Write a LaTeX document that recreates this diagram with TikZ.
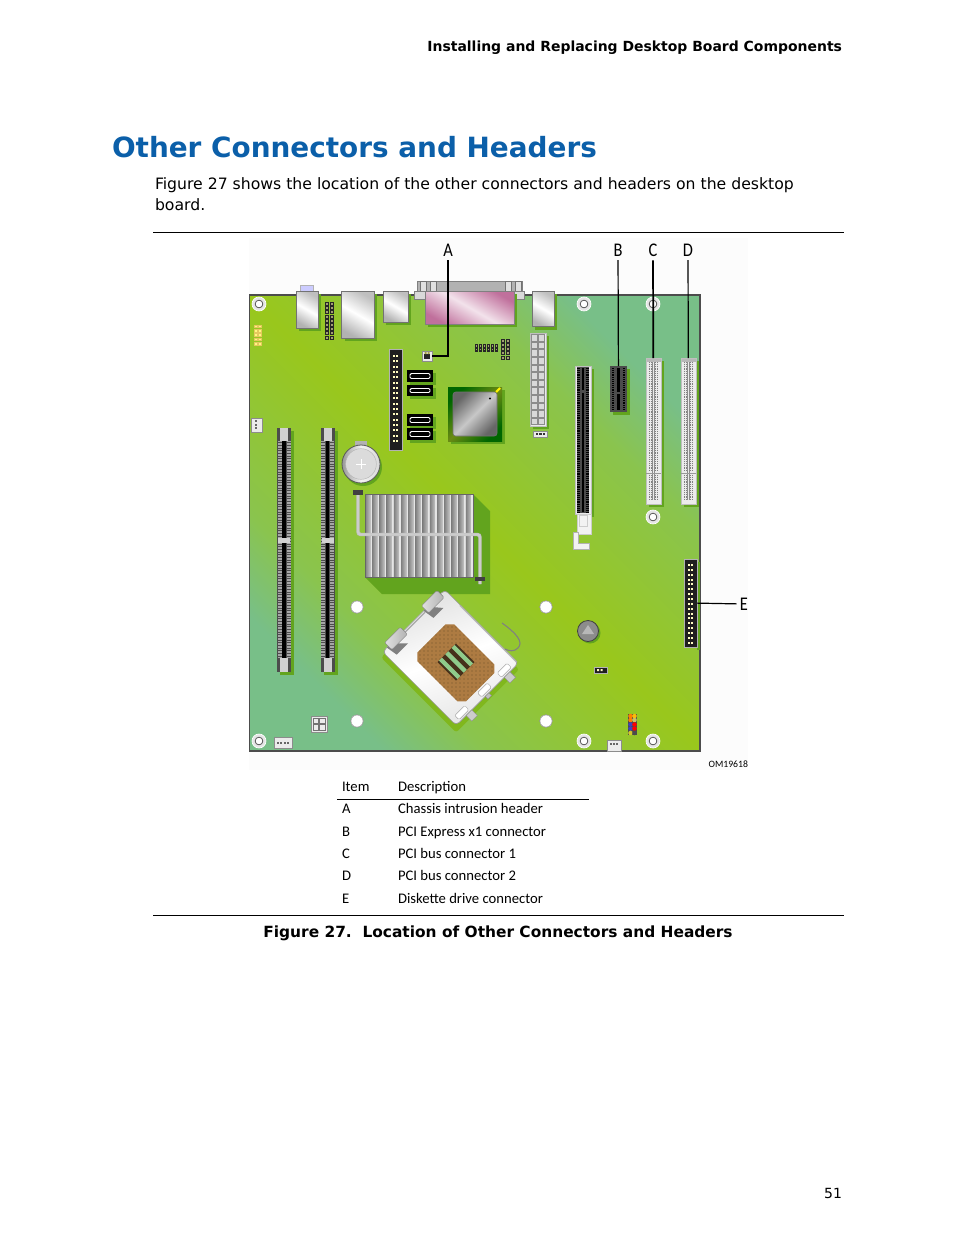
\documentclass[tikz,border=0pt]{standalone}
\usepackage{fontspec}
\setmainfont{DejaVu Sans}
\newfontfamily\tablefont{Carlito}
\usetikzlibrary{shadows,patterns}
\definecolor{boardteal}{HTML}{78BF88}
\definecolor{boardmid}{HTML}{8AC44E}
\definecolor{boardlime}{HTML}{99C71C}
\definecolor{castgreen}{HTML}{62A41E}
\definecolor{titleblue}{HTML}{0B5FA9}
\definecolor{portpink}{HTML}{C0709C}
\definecolor{brownpad}{HTML}{AD7B42}
\definecolor{padgreen}{HTML}{8FCB8B}
\definecolor{slotgray}{HTML}{4C4C4C}
\pgfdeclareverticalshading{boarddiag}{100bp}{color(0bp)=(boardteal); color(25bp)=(boardteal); color(33bp)=(boardmid); color(50bp)=(boardlime); color(67bp)=(boardmid); color(75bp)=(boardteal); color(100bp)=(boardteal)}
% part between two pixel corners
\newcommand{\boxpart}[6]{\node[#1, minimum width={((#5)-(#3))*0.75pt}, minimum height={((#6)-(#4))*0.75pt}] (#2) at ({(#3+#5)/2},{(#4+#6)/2}) {};}
\newcommand{\pinblock}[8]{\foreach \col in {1,...,#3} \foreach \row in {1,...,#4}
  \fill[#7] ({#1+(\col-1)*#5-#8},{#2+(\row-1)*#6-#8}) rectangle ({#1+(\col-1)*#5+#8},{#2+(\row-1)*#6+#8});}
\newcommand{\mounthole}[3]{\node[holering] (#1) at (#2,#3) {}; \node[holeinner] at (#1) {};}
\newcommand{\sataport}[3]{\boxpart{sata}{#1}{407}{#2}{433}{#3}
  \draw[white, line width=.7pt, rounded corners=1pt] (410,{#2+3.5}) -- (430,{#2+3.5}) -- (430,{#3-3.5}) -- (410,{#3-3.5}) -- cycle;
  \fill[black] (412,{#2+5}) rectangle (428,{#3-6});}
\newcommand{\pcislot}[2]{\boxpart{pciwhite}{#1}{#2-7.5}{358}{#2+7.5}{504}
  \foreach \dx in {-4,-2,2,4} {
    \draw[black!50, line width=.9pt, dash pattern=on .7pt off .7pt] ({#2+\dx},362) -- ({#2+\dx},471);
    \draw[black!50, line width=.9pt, dash pattern=on .7pt off .7pt] ({#2+\dx},475) -- ({#2+\dx},500);}
  \draw[black!45, line width=.5pt] ({#2-1},362) -- ({#2-1},500) ({#2+1},362) -- ({#2+1},500);
  \draw[black!40, line width=.5pt] ({#2-7.5},473) -- ({#2+7.5},473);
  \fill[black!28] ({#2-7},358.5) rectangle ({#2+7},362);}
\newcommand{\dimmslot}[2]{\boxpart{dimmbase}{#1}{#2}{428}{#2+14}{672}
  \foreach \dx in {2.5,11.5} \draw[gray!70, line width=3pt, dash pattern=on .6pt off .6pt] ({#2+\dx},441) -- ({#2+\dx},658);
  \draw[black, line width=2.4pt] ({#2+7},441) -- ({#2+7},658);
  \boxpart{dimmclip}{#1a}{#2+1}{538}{#2+13}{543}
  \boxpart{dimmclip}{#1b}{#2+3}{428}{#2+11}{441}
  \boxpart{dimmclip}{#1c}{#2+3}{658}{#2+11}{672}}

\begin{document}
\begin{tikzpicture}[x=.75pt, y=-.75pt]
\tikzstyle{every node} = [inner sep=0pt, outer sep=0pt]
\tikzstyle{cast} = [general shadow={fill=castgreen, shadow xshift=2.6pt, shadow yshift=-2.6pt}]
\tikzstyle{boardbase} = [draw=black!70, line width=.8pt, shade, shading=boarddiag, shading angle=-45]
\tikzstyle{metal} = [draw=black!55, line width=.6pt, cast, shade, left color=black!25, right color=black!30, middle color=white, shading angle=-30]
\tikzstyle{blackpart} = [fill=black!88, draw=black!30, line width=.4pt]
\tikzstyle{pciwhite} = [fill=black!8, draw=black!25, line width=.4pt, cast]
\tikzstyle{dimmbase} = [fill=slotgray, cast]
\tikzstyle{dimmclip} = [fill=black!18]
\tikzstyle{sata} = [fill=black, cast]
\tikzstyle{palepart} = [fill=black!8, draw=black!45, line width=.4pt]
\tikzstyle{holering} = [circle, minimum size=10.5pt, fill=black!10, draw=white, line width=.5pt]
\tikzstyle{holeinner} = [circle, minimum size=5.8pt, fill=white, draw=black!75, line width=.5pt]
\tikzstyle{platehole} = [circle, minimum size=9pt, fill=white, draw=black!40, line width=.3pt]
\tikzstyle{leader} = [black, line width=.9pt]
\tikzstyle{callout} = [font=\tablefont\fontsize{14.5}{14.5}\selectfont, xscale=.85, transform shape, inner sep=3pt]
\tikzstyle{cell} = [font=\tablefont\fontsize{11}{12}\selectfont, anchor=base west]
\tikzstyle{bodytext} = [font=\fontsize{11.75}{13}\selectfont, anchor=base west]

\useasboundingbox (0,0) rectangle (954,1235);
\fill[white] (0,0) rectangle (954,1235);
\fill[black!1] (249,238) rectangle (748,770);

% page text
\node[font=\bfseries\fontsize{10.47}{13}\selectfont, anchor=base east] (running) at (842,51) {Installing and Replacing Desktop Board Components};
\node[font=\bfseries\fontsize{20.9}{26}\selectfont, text=titleblue, anchor=base west] (title) at (112,157) {Other Connectors and Headers};
\node[bodytext] (line1) at (155,189) {Figure 27 shows the location of the other connectors and headers on the desktop};
\node[bodytext] (line2) at (155,210) {board.};
\draw[black, line width=.75pt] (153,232.5) -- (844,232.5);

% board
\boxpart{boardbase}{board}{249.5}{295}{700}{751}

% rear panel
\fill[blue!20!white, draw=black!30, line width=.3pt] (300,285) rectangle (313,291);
\boxpart{metal}{audio}{296}{291}{318}{328}
\boxpart{metal}{lan}{341.5}{291}{374}{338}
\boxpart{metal}{usb}{383}{291}{408}{322}
\boxpart{metal}{serial}{532}{291}{554}{326.5}
\fill[black!30, draw=black!50, line width=.3pt] (417,281) rectangle (522,291);
\foreach \tx in {420,430,505,515}
  \fill[black!12, draw=black!55, line width=.3pt] (\tx,281) rectangle ({\tx+6},291);
\fill[black!15, draw=black!50, line width=.4pt] (414,291) rectangle (524,299);
\node[draw=black!50, line width=.5pt, minimum width=66.75pt, minimum height=24.75pt, cast, shade, left color=portpink, right color=portpink, middle color=white!80!portpink, shading angle=-30] (parallel) at (469.5,307.5) {};

\foreach \hname/\hx/\hy in {holeA/259/304, holeB/584/304, holeC/653/304, holeD/653/517, holeE/259/741, holeF/584/741, holeG/653/741}
  \mounthole{\hname}{\hx}{\hy}
\foreach \pname/\px/\py in {plateA/357/607, plateB/546/607, plateC/357/721, plateD/546/721}
  \node[platehole] (\pname) at (\px,\py) {};

% small headers
\pinblock{327.3}{304}{2}{9}{4.4}{4.2}{black!85}{2}
\pinblock{327.3}{304}{2}{9}{4.4}{4.2}{yellow!40!black!70!white}{1}
\pinblock{255.8}{326.5}{2}{5}{4.4}{4.3}{yellow!45!brown!80!white}{1.9}
\pinblock{255.8}{326.5}{2}{5}{4.4}{4.3}{yellow!50!white}{.8}
\boxpart{palepart}{fanleft}{251}{418}{262}{432}
\pinblock{256}{421}{1}{3}{0}{3.6}{black!60}{1.1}
\pinblock{476.5}{346}{6}{2}{4}{3.6}{black!85}{1.9}
\pinblock{476.5}{346}{6}{2}{4}{3.6}{yellow!40!black!70!white}{.8}
\pinblock{503.4}{340.5}{2}{5}{4.2}{4.3}{black!85}{2}
\pinblock{503.4}{340.5}{2}{5}{4.2}{4.3}{yellow!40!black!70!white}{1}
\boxpart{palepart}{chassis}{422}{351}{432}{361}
\fill[black!85] (424,354) rectangle (430,359);
\fill[yellow!60!black] (424.5,352) rectangle (426.5,354) (427.5,352) rectangle (429.5,354);

% drive connectors
\boxpart{blackpart}{ide}{389}{349}{402}{450}
\pinblock{393.5}{356}{2}{17}{3.6}{5.3}{yellow!25!white}{1}
\sataport{sataA}{370}{382}
\sataport{sataB}{385}{396}
\sataport{sataC}{414}{426}
\sataport{sataD}{428}{440}
\fill[castgreen] (697,562) rectangle (699.6,650);
\boxpart{blackpart}{floppy}{684}{559}{697}{647}
\pinblock{688.5}{565}{2}{17}{3.6}{4.85}{yellow!25!white}{1}

% chipset
\node[minimum size=40.5pt, cast, shade, left color=green!40!black, right color=green!40!black, middle color=boardlime!70!black, shading angle=45] (chip) at (475,414) {};
\node[minimum size=33pt, rounded corners=2pt, draw=black!55, line width=.4pt, shade, left color=black!60, right color=black!60, middle color=black!22, shading angle=45] (chiplid) at (475,414) {};
\fill[black] (490,398.5) circle (.8pt);
\draw[yellow, line width=1.6pt] (496,392) -- (500,388);

% power
\boxpart{pciwhite}{power}{530}{333}{546}{426}
\foreach \row in {0,...,11} \foreach \col in {0,1}
  \draw[black!45, fill=black!15, line width=.4pt] ({531+\col*7},{334.5+\row*7.6}) rectangle ({537.5+\col*7},{341+\row*7.6});
\boxpart{palepart}{powersmall}{533}{431}{547}{437}
\pinblock{537}{434}{3}{1}{3.4}{0}{black!80}{1.2}

% slots
\boxpart{pciwhite}{pegbody}{575}{366}{591}{514}
\fill[slotgray] (577,367) rectangle (589,513);
\foreach \dx in {578.5,587.5} \draw[black, line width=2pt, dash pattern=on .7pt off .7pt] (\dx,368) -- (\dx,512);
\draw[black, line width=1.6pt] (583,368) -- (583,390) (583,393) -- (583,512);
\draw[black!20, fill=black!5, line width=.5pt] (577,514) rectangle (591,534) (579,515) rectangle (587,526);
\fill[black!5, draw=black!30, line width=.4pt] (573,532) -- (578,532) -- (578,543) -- (589,543) -- (589,549) -- (573,549) -- cycle;
\boxpart{dimmbase}{pciex}{610}{366}{627}{412}
\foreach \dx in {613,624} \draw[black, line width=2pt, dash pattern=on .7pt off .7pt] (\dx,368) -- (\dx,410);
\draw[black, line width=1.6pt] (618.5,368) -- (618.5,392) (618.5,394) -- (618.5,410);
\pcislot{pciC}{653.5}
\pcislot{pciD}{688.5}
\dimmslot{dimmA}{277}
\dimmslot{dimmB}{320.5}

% battery
\fill[black!30] (355,441) rectangle (367,447);
\node[circle, minimum size=28.5pt, fill=castgreen] at (363,467) {};
\node[circle, minimum size=28.5pt, draw=black!65, line width=.6pt, shade, left color=black!40, right color=black!15, middle color=black!5] (battery) at (361,464) {};
\node[circle, minimum size=23pt, draw=black!30, line width=.3pt, fill=black!14] at (361,464) {};
\draw[white, line width=.5pt] (361,459) -- (361,469) (356,464) -- (366,464);

% heat sink
\fill[castgreen] (473,494) -- (490,511) -- (490,594) -- (382,594) -- (365,577) -- cycle;
\boxpart{metal}{sink}{365}{494}{473}{577}
\foreach \fin in {0,...,14} {
  \shade[left color=black!50, right color=black!22] ({365+\fin*7.2},494) rectangle ({370.5+\fin*7.2},577);
  \fill[white!90!black] ({370.5+\fin*7.2},494) rectangle ({372.2+\fin*7.2},577);}
\draw[black!60, line width=.5pt] (365,494) rectangle (473,577);
\draw[black!25, line width=2.6pt, rounded corners=2pt] (358,490) -- (358,534.5) -- (480,534.5) -- (480,584);
\draw[white!80!black, line width=1.6pt, rounded corners=2pt] (358,490) -- (358,534.5) -- (480,534.5) -- (480,584);
\fill[black!75] (353,490) rectangle (363,495);
\fill[black!75] (475,577) rectangle (485,581);

% socket
\begin{scope}[shift={(450.5,657.5)}, rotate=-45]
\fill[castgreen!45!boardlime, rounded corners=2pt] (-49,-40) rectangle (57,49);
\shade[draw=black!40, line width=.5pt, rounded corners=3pt, top color=black!12, bottom color=black!10, middle color=white, shading angle=20] (-52,-44) rectangle (52,44);
\fill[black!50] (-52,-20) -- (-40,-30) -- (-40,-16) -- (-52,-14) -- cycle;
\fill[black!50] (-52,32) -- (-40,20) -- (-40,36) -- (-52,38) -- cycle;
\draw[black!35, line width=1pt] (-50,-14) -- (-50,14);
\shade[draw=black!50, line width=.3pt, rounded corners=1pt, left color=black!12, right color=black!30] (-57,-38) rectangle (-47,-16);
\shade[draw=black!50, line width=.3pt, rounded corners=1pt, left color=black!12, right color=black!30] (-57,14) rectangle (-47,36);
\fill[white, draw=black!35, line width=.3pt] (-30,-44) rectangle (50,-43);
\fill[brownpad] (-21,-26) -- (36,-26) -- (42,-20) -- (42,20) -- (36,26) -- (-21,26) -- (-27,20) -- (-27,-20) -- cycle;
\path[pattern=dots, pattern color=black!35!brownpad] (-21,-26) -- (36,-26) -- (42,-20) -- (42,20) -- (36,26) -- (-21,26) -- (-27,20) -- (-27,-20) -- cycle;
\foreach \ty in {-36,-8,24} \fill[white, draw=black!35, line width=.3pt, rounded corners=1pt] (44,\ty) rectangle (50,{\ty+14});
\fill[black!20, draw=black!45, line width=.3pt] (52,-32) rectangle (60,-24) (52,22) rectangle (60,30);
\fill[black!25, draw=black!45, line width=.3pt] (52,-2) rectangle (56,3);
\end{scope}
\fill[black!60!brownpad] (456,643.5) -- (474.5,662) -- (456,680.5) -- (437.5,662) -- cycle;
\foreach \off in {-9,0,9}
  \draw[padgreen, line width=3.2pt] ({456-9.2-.707*\off},{662-9.2+.707*\off}) -- ({456+9.2-.707*\off},{662+9.2+.707*\off});
\draw[black!50, line width=.8pt] (502,623) .. controls (516,633) and (524,642) .. (518,648) .. controls (514,652) and (509,651) .. (505,649);

% other parts
\node[circle, minimum size=15.75pt, fill=castgreen] at (590,633) {};
\node[circle, minimum size=15.75pt, draw=black!75, line width=.6pt, fill=black!45] (buzzer) at (588,631) {};
\fill[black!28] (588,625) -- (594,634) -- (582,634) -- cycle;
\boxpart{blackpart}{jumper}{594}{667}{607}{673}
\fill[yellow!25!white] (597,669) rectangle (599,671) (600.5,669) rectangle (602.5,671);
\boxpart{palepart}{cpupower}{311}{716}{327}{732}
\draw[black!55, line width=.5pt] (313,718) rectangle (318.5,723.5) (319.5,718) rectangle (325,723.5) (313,724.5) rectangle (318.5,730) (319.5,724.5) rectangle (325,730);
\boxpart{palepart}{fanbottom}{274}{737}{292}{748}
\pinblock{278}{743}{4}{1}{3.4}{0}{black!60}{1}
\boxpart{palepart}{fanright}{607}{740}{621}{751}
\pinblock{610.5}{744}{3}{1}{3.4}{0}{black!60}{1}
\foreach \cy/\cl/\cr in {716/orange/yellow!50!orange, 720/orange/yellow!50!gray, 724.5/blue!50!gray/red, 728.5/blue!50!gray/red, 733/yellow!80!black/black!70} {
  \fill[black!70] (628,{\cy-2.2}) rectangle (637,{\cy+2.2});
  \fill[\cl] (630.5,\cy) circle (1.7pt);
  \fill[\cr] (634.5,\cy) circle (1.7pt);}

% callouts
\node[callout] (labA) at (448,250) {A};
\node[callout] (labB) at (618,250) {B};
\node[callout] (labC) at (653,250) {C};
\node[callout] (labD) at (688,250) {D};
\node[callout] (labE) at (744,604) {E};
\draw[leader] (labA.south) |- (chassis.east);
\draw[leader] (labB) -- (pciex);
\draw[leader, line width=1.3pt] (labC) -- (pciC);
\draw[leader] (labD) -- (pciD);
\draw[leader] (labE) -- (floppy);
\node[font=\tablefont\fontsize{7.3}{8}\selectfont, anchor=base east] (drawno) at (748,767) {OM19618};

% table
\node[cell] (hItem) at (342,791.5) {Item};
\node[cell] (hDesc) at (398,791.5) {Description};
\draw[black, line width=.75pt] (337,799.5) -- (589,799.5);
\foreach \rname/\rid/\rtext/\ry in {rowA/A/Chassis intrusion header/813.5, rowB/B/PCI Express x1 connector/836, rowC/C/PCI bus connector 1/858.5, rowD/D/PCI bus connector 2/880.5, rowE/E/Diskette drive connector/903} {
  \node[cell] (\rname) at (342,\ry) {\rid};
  \node[cell] (\rname text) at (398,\ry) {\rtext};}
\draw[black, line width=.75pt] (153,915.5) -- (844,915.5);
\node[font=\bfseries\fontsize{11.55}{13}\selectfont, anchor=base] (caption) at (498,937) {Figure 27.\ \ Location of Other Connectors and Headers};
\node[font=\fontsize{10.5}{13}\selectfont, anchor=base east] (pageno) at (842,1198) {51};
\end{tikzpicture}
\end{document}
